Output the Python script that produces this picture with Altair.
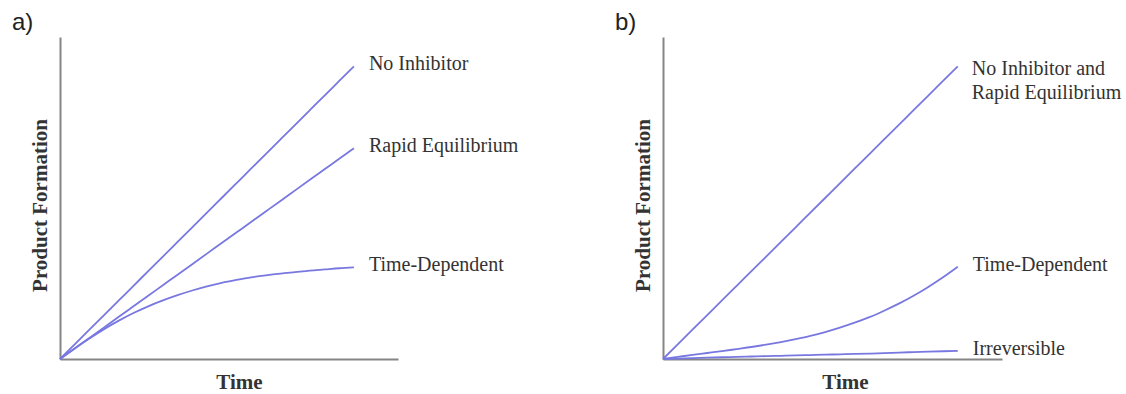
import altair as alt
import pandas as pd

# ---- data ----
t_grid = [0, 0.5, 1, 1.5, 2, 2.5, 3, 3.5, 4, 4.5, 5, 5.5, 6, 6.5, 7, 7.5, 8, 8.5, 9, 9.5, 10]

# panel a
a_no_inhibitor = [0, 5, 10, 15, 20, 25, 30, 35, 40, 45, 50, 55, 60, 65, 70, 75, 80, 85, 90, 95, 100]
a_rapid_eq = [0, 3.6, 7.2, 10.8, 14.4, 18, 21.6, 25.2, 28.8, 32.4, 36, 39.6, 43.2, 46.8, 50.4, 54, 57.6, 61.2, 64.8, 68.4, 72]
a_time_dep = [0, 3.6, 7.0, 10.2, 13.1, 15.7, 18.0, 20.0, 21.8, 23.4, 24.8, 26.0, 27.0, 27.9, 28.6, 29.2, 29.7, 30.2, 30.6, 31.0, 31.3]

# panel b
b_no_inh_rapid = [0, 5, 10, 15, 20, 25, 30, 35, 40, 45, 50, 55, 60, 65, 70, 75, 80, 85, 90, 95, 100]
b_time_dep = [0, 0.7, 1.4, 2.05, 2.7, 3.4, 4.1, 4.9, 5.8, 6.8, 7.9, 9.2, 10.7, 12.4, 14.3, 16.5, 18.9, 21.6, 24.6, 27.9, 31.5]
b_irreversible = [0, 0.15, 0.3, 0.45, 0.6, 0.72, 0.85, 0.98, 1.1, 1.22, 1.35, 1.48, 1.6, 1.72, 1.85, 2.0, 2.2, 2.35, 2.5, 2.65, 2.8]

a_names = ["No Inhibitor", "Rapid Equilibrium", "Time-Dependent"]
b_names = ["No Inhibitor and\nRapid Equilibrium", "Time-Dependent", "Irreversible"]

LINE = "#7878e0"
AXIS = "#858585"
TEXT = "#333333"
SERIF = "Liberation Serif"


def make_df(names, series):
    rows = []
    for n, s in zip(names, series):
        for t, v in zip(t_grid, s):
            rows.append({"series": n, "t": t, "v": v})
    return pd.DataFrame(rows)


def end_df(names, series):
    return pd.DataFrame({"series": names, "t": [t_grid[-1]] * len(names), "v": [s[-1] for s in series]})


def panel(names, series, letter, width, title_x, multi_first=False):
    df = make_df(names, series)
    ends = end_df(names, series)
    xs = alt.Scale(domain=[0, 11.5], nice=False)
    ys = alt.Scale(domain=[0, 110], nice=False)
    x_axis = alt.Axis(title="Time", labels=False, ticks=False, grid=False,
                      domainColor=AXIS, domainWidth=2,
                      titleFont=SERIF, titleFontSize=21, titleFontWeight="bold",
                      titleColor=TEXT, titlePadding=12, titleX=title_x)
    y_axis = alt.Axis(title="Product Formation", labels=False, ticks=False, grid=False,
                      domainColor=AXIS, domainWidth=2,
                      titleFont=SERIF, titleFontSize=21, titleFontWeight="bold",
                      titleColor=TEXT, titlePadding=10, titleY=168)
    lines = alt.Chart(df).mark_line(color=LINE, strokeWidth=1.8, interpolate="monotone").encode(
        x=alt.X("t:Q", scale=xs, axis=x_axis),
        y=alt.Y("v:Q", scale=ys, axis=y_axis),
        detail="series:N",
    )
    layers = [lines]
    if multi_first:
        first = ends.iloc[:1]
        rest = ends.iloc[1:]
        layers.append(alt.Chart(first).mark_text(
            align="left", baseline="middle", dx=14, dy=3, font=SERIF, fontSize=20,
            color=TEXT, lineBreak="\n", lineHeight=24).encode(
            x=alt.X("t:Q", scale=xs), y=alt.Y("v:Q", scale=ys), text="series:N"))
    else:
        rest = ends
    layers.append(alt.Chart(rest).mark_text(
        align="left", baseline="middle", dx=15, dy=-2, font=SERIF, fontSize=20,
        color=TEXT).encode(
        x=alt.X("t:Q", scale=xs), y=alt.Y("v:Q", scale=ys), text="series:N"))
    return alt.layer(*layers).properties(
        width=width, height=322,
        title=alt.Title(letter, anchor="start", frame="group", dx=-48, offset=2,
                        font="Liberation Sans", fontSize=24, fontWeight="normal", color="#222"),
    )


pa = panel(a_names, [a_no_inhibitor, a_rapid_eq, a_time_dep], "a)", 338, 179)
pb = panel(b_names, [b_no_inh_rapid, b_time_dep, b_irreversible], "b)", 339, 182, multi_first=True)

chart = alt.hconcat(pa, pb, spacing=265, bounds="flush").properties(
    padding={"left": 12, "top": 11, "right": 0, "bottom": 0}
).configure(background="white").configure_view(stroke=None)

chart.save("out.html", embed_options={"renderer": "svg", "actions": False})
